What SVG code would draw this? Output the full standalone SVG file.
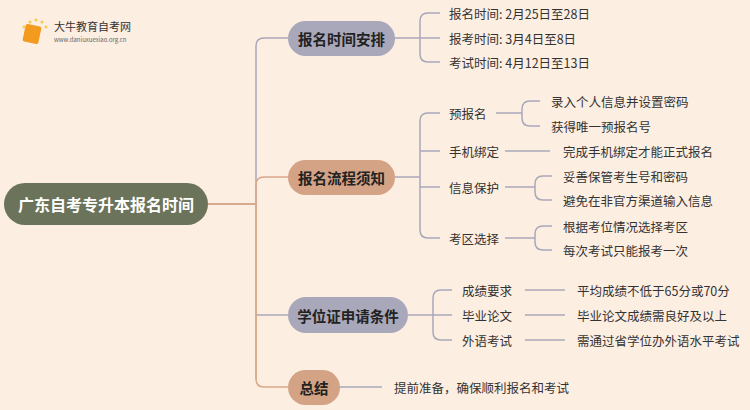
<svg xmlns="http://www.w3.org/2000/svg" width="750" height="410" viewBox="0 0 750 410">
<style>
text{font-family:"Noto Sans CJK SC","Liberation Sans",sans-serif;dominant-baseline:central}
.t{font-size:12.5px;fill:#333}
.b{font-size:14.5px;font-weight:bold;fill:#222;text-anchor:middle}
.g{fill:none;stroke:#A9A8BA;stroke-width:1.5}
.r{fill:none;stroke:#D9A88A;stroke-width:1.5}
</style>
<rect width="750" height="410" fill="#FDEEE2"/>
<g id="logo">
<rect x="24" y="25" width="16" height="18" rx="2" fill="#F29B1E" transform="rotate(12 32 34)"/>
<circle cx="30" cy="22" r="1.5" fill="#F6C94A"/><circle cx="36" cy="20" r="1.5" fill="#F6C94A"/><circle cx="42" cy="22" r="1.5" fill="#F6C94A"/><circle cx="46" cy="27" r="1.5" fill="#F6C94A"/><circle cx="24" cy="27" r="1.5" fill="#F6C94A"/>
<text x="54" y="26" style="font-size:11px;fill:#333">大牛教育自考网</text>
<text x="54" y="39" style="font-size:6px;fill:#666">www.daniuxuexiao.org.cn</text>
</g>
<g id="connectors">
<path class="g" d="M208,204 H256 V46 Q256,38 264,38 H288"/>
<path class="r" d="M208,204 H256 V185 Q256,177 264,177 H288"/>
<path class="r" d="M208,204 H256 V379 Q256,387 264,387 H288"/>
<path class="g" d="M256,315 H288"/>
<path class="r" d="M256,204 V379"/>
<path class="g" d="M395,38 H420 M428,13 Q420,13 420,21 V54 Q420,62 428,62 H440 M420,38 H440 M428,13 H440"/>
<path class="g" d="M395,177 H420 M428,113 Q420,113 420,121 V230 Q420,238 428,238 H440 M428,113 H440 M420,151 H440 M420,187 H440"/>
<path class="g" d="M496,113 H522 M530,101 Q522,101 522,109 V118 Q522,126 530,126 H540 M530,101 H540"/>
<path class="g" d="M505,151 H550"/>
<path class="g" d="M505,187 H535 M543,176 Q535,176 535,184 V192 Q535,200 543,200 H552 M543,176 H552"/>
<path class="g" d="M505,238 H535 M543,226 Q535,226 535,234 V242 Q535,250 543,250 H552 M543,226 H552"/>
<path class="g" d="M408,315 H433 M441,290 Q433,290 433,298 V332 Q433,340 441,340 H452 M441,290 H452 M433,315 H452"/>
<path class="g" d="M525,290 H565 M525,315 H565 M525,340 H565"/>
<path class="g" d="M340,387 H382"/>
</g>
<g id="root"><rect x="4" y="183" width="204" height="42" rx="21" fill="#6B735A"/><text x="106" y="204" style="font-size:16px;font-weight:bold;fill:#fff;text-anchor:middle">广东自考专升本报名时间</text></g>
<g id="b1"><rect x="288" y="21" width="107" height="35" rx="17.5" fill="#A9A8BA"/><text class="b" x="341.5" y="38.5">报名时间安排</text></g>
<g id="b2"><rect x="288" y="160" width="107" height="35" rx="17.5" fill="#D4A385"/><text class="b" x="341.5" y="177.5">报名流程须知</text></g>
<g id="b3"><rect x="288" y="297" width="120" height="36" rx="18" fill="#A9A8BA"/><text class="b" x="348" y="315">学位证申请条件</text></g>
<g id="b4"><rect x="288" y="370" width="52" height="35" rx="17.5" fill="#D4A385"/><text class="b" x="314" y="387.5">总结</text></g>
<g id="leaves">
<text class="t" x="449" y="13">报名时间: 2月25日至28日</text>
<text class="t" x="449" y="38">报考时间: 3月4日至8日</text>
<text class="t" x="449" y="62">考试时间: 4月12日至13日</text>
<text class="t" x="449" y="113">预报名</text>
<text class="t" x="449" y="151">手机绑定</text>
<text class="t" x="449" y="187">信息保护</text>
<text class="t" x="449" y="238">考区选择</text>
<text class="t" x="551" y="101">录入个人信息并设置密码</text>
<text class="t" x="551" y="126">获得唯一预报名号</text>
<text class="t" x="563" y="151">完成手机绑定才能正式报名</text>
<text class="t" x="563" y="176">妥善保管考生号和密码</text>
<text class="t" x="563" y="200">避免在非官方渠道输入信息</text>
<text class="t" x="563" y="226">根据考位情况选择考区</text>
<text class="t" x="563" y="250">每次考试只能报考一次</text>
<text class="t" x="462" y="290">成绩要求</text>
<text class="t" x="462" y="315">毕业论文</text>
<text class="t" x="462" y="340">外语考试</text>
<text class="t" x="577" y="290">平均成绩不低于65分或70分</text>
<text class="t" x="577" y="315">毕业论文成绩需良好及以上</text>
<text class="t" x="577" y="340">需通过省学位办外语水平考试</text>
<text class="t" x="394" y="387">提前准备，确保顺利报名和考试</text>
</g>
</svg>
